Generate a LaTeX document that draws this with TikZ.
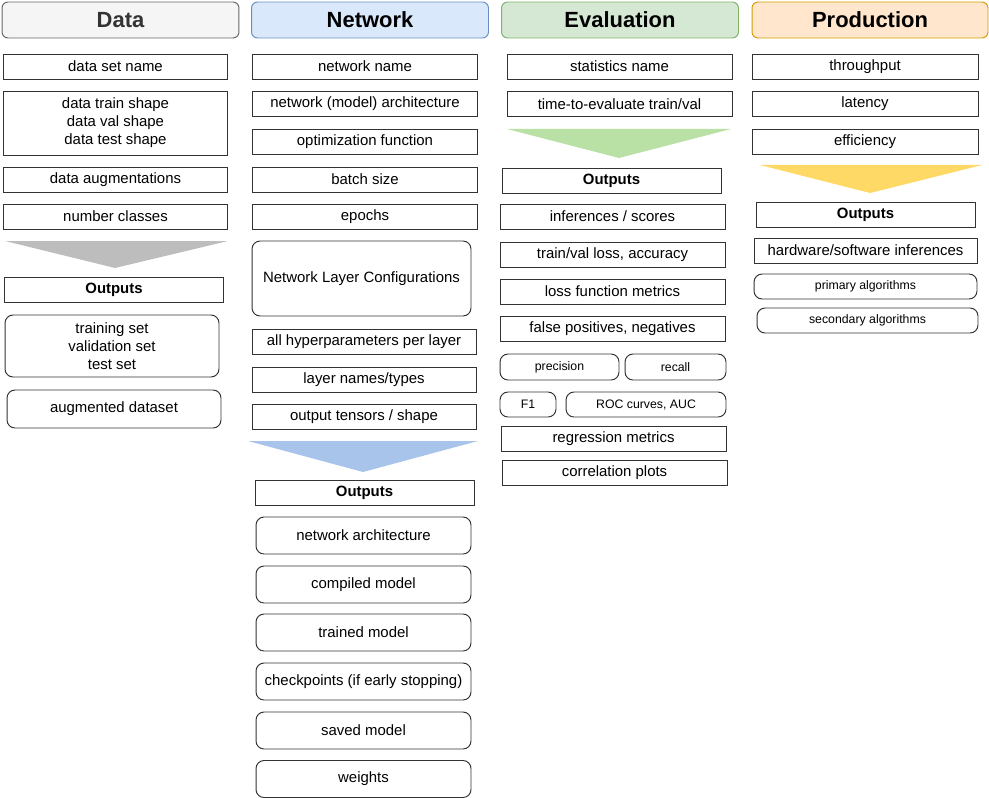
\documentclass[tikz,border=0pt]{standalone}
\usepackage{fontspec}
\setmainfont{Liberation Sans}

\definecolor{datafill}{HTML}{F5F5F5}
\definecolor{datadraw}{HTML}{666666}
\definecolor{datatext}{HTML}{333333}
\definecolor{netfill}{HTML}{DAE8FC}
\definecolor{netdraw}{HTML}{6C8EBF}
\definecolor{evalfill}{HTML}{D5E8D4}
\definecolor{evaldraw}{HTML}{82B366}
\definecolor{prodfill}{HTML}{FFE6CC}
\definecolor{proddraw}{HTML}{D79B00}
\definecolor{datapfeil}{HTML}{BDBDBD}
\definecolor{netpfeil}{HTML}{A9C4EB}
\definecolor{evalpfeil}{HTML}{B9E0A5}
\definecolor{prodpfeil}{HTML}{FFD966}

\tikzset{
	kasten/.style={draw=black!80, line width=0.55pt, inner sep=0pt, outer sep=0pt,
		minimum width=4.5cm, minimum height=0.5cm, align=center,
		font=\fontsize{8.5}{10.2}\selectfont},
	rund/.style={kasten, rounded corners=0.16cm},
	klein/.style={font=\fontsize{7}{8.4}\selectfont},
	ausgabe/.style={kasten, minimum width=4.38cm, font=\fontsize{8.5}{10}\selectfont\bfseries},
	kopf/.style={draw, line width=0.55pt, rounded corners=0.12cm, inner sep=0pt,
		minimum width=4.74cm, minimum height=0.72cm,
		font=\fontsize{12.5}{14}\selectfont\bfseries}
}

\begin{document}
\begin{tikzpicture}[x=0.02cm, y=-0.02cm]
	\useasboundingbox (0,0) rectangle (989,797);

	% Spaltenkoepfe
	\node[kopf, draw=datadraw, fill=datafill, text=datatext] (kdata) at (120.5, 20) {Data};
	\node[kopf, draw=netdraw, fill=netfill] (knet) at (370, 20) {Network};
	\node[kopf, draw=evaldraw, fill=evalfill] (keval) at (620, 20) {Evaluation};
	\node[kopf, draw=proddraw, fill=prodfill, minimum width=4.72cm] (kprod) at (870, 20) {Production};

	% Data: Eingaben
	\node[kasten] (dname) at (115.5, 66.5) {data set name};
	\node[kasten, minimum height=1.28cm] (dshape) at (115.5, 123)
		{data train shape\\data val shape\\data test shape};
	\node[kasten] (daug) at (115.5, 179.5) {data augmentations};
	\node[kasten] (dclass) at (115.5, 216.5) {number classes};
	\fill[datapfeil] (5, 241) -- (228, 241) -- (115, 268) -- cycle;
	% Data: Ausgaben
	\node[ausgabe] (dout) at (114, 289.5) {Outputs};
	\node[rund, minimum width=4.28cm, minimum height=1.24cm] (dsets) at (112, 346)
		{training set\\validation set\\test set};
	\node[rund, minimum width=4.28cm, minimum height=0.76cm] (daugset) at (114, 409)
		{augmented dataset};

	% Network: Eingaben
	\foreach \n/\y/\t in {nname/66.5/{network name},
		narch/104/{network (model) architecture},
		nopt/142/{optimization function},
		nbatch/179.5/{batch size},
		nepoch/216.5/{epochs}}
		\node[kasten] (\n) at (365, \y) {\t};
	\node[rund, minimum width=4.38cm, minimum height=1.5cm] (nlayer) at (361.5, 278.5)
		{Network Layer Configurations};
	\foreach \n/\y/\t in {nhyper/342/{all hyperparameters per layer},
		ntypes/379.5/{layer names/types},
		ntensor/416.5/{output tensors / shape}}
		\node[kasten, minimum width=4.48cm] (\n) at (364, \y) {\t};
	\fill[netpfeil] (248, 441) -- (478, 441) -- (363, 472) -- cycle;
	% Network: Ausgaben
	\node[ausgabe] (nout) at (364.5, 492.5) {Outputs};
	\foreach \n/\y/\t in {onarch/535.5/{network architecture},
		oncomp/584.5/{compiled model},
		ontrain/632.5/{trained model},
		oncheck/681.5/{checkpoints (if early stopping)},
		onsave/730.5/{saved model},
		onweight/779/{weights}}
		\node[rund, minimum width=4.3cm, minimum height=0.74cm] (\n) at (363.5, \y) {\t};

	% Evaluation: Eingaben
	\node[kasten] (ename) at (619.5, 66.5) {statistics name};
	\node[kasten] (etime) at (619.5, 104) {time-to-evaluate train/val};
	\fill[evalpfeil] (507, 129) -- (731, 129) -- (619, 158) -- cycle;
	% Evaluation: Ausgaben
	\node[ausgabe] (eout) at (611.5, 180.5) {Outputs};
	\foreach \n/\y/\t in {escore/216.5/{inferences / scores},
		eloss/254.5/{train/val loss, accuracy},
		efunc/291.5/{loss function metrics},
		efalse/328.5/{false positives, negatives}}
		\node[kasten] (\n) at (612.5, \y) {\t};
	\node[rund, klein, minimum width=2.38cm, minimum height=0.52cm] (eprec) at (559.5, 367) {precision};
	\node[rund, klein, minimum width=2.02cm, minimum height=0.52cm] (erecall) at (675.5, 367) {recall};
	\node[rund, klein, minimum width=1.12cm] (ef1) at (528, 404.5) {F1};
	\node[rund, klein, minimum width=3.2cm] (eroc) at (646, 404.5) {ROC curves, AUC};
	\node[kasten] (eregr) at (613.5, 438.5) {regression metrics};
	\node[kasten] (ecorr) at (614.5, 473) {correlation plots};

	% Production: Eingaben
	\foreach \n/\y/\t in {pthrough/66.5/{throughput},
		plat/104/{latency},
		peff/142/{efficiency}}
		\node[kasten, minimum width=4.52cm] (\n) at (865, \y) {\t};
	\fill[prodpfeil] (760, 165) -- (982, 165) -- (870, 193) -- cycle;
	% Production: Ausgaben
	\node[ausgabe] (pout) at (865.5, 215) {Outputs};
	\node[kasten, minimum width=4.46cm] (phw) at (865.5, 250.5) {hardware/software inferences};
	\node[rund, klein, minimum width=4.46cm] (pprim) at (865.5, 286.5) {primary algorithms};
	\node[rund, klein, minimum width=4.42cm] (psec) at (867.5, 320.5) {secondary algorithms};
\end{tikzpicture}
\end{document}
